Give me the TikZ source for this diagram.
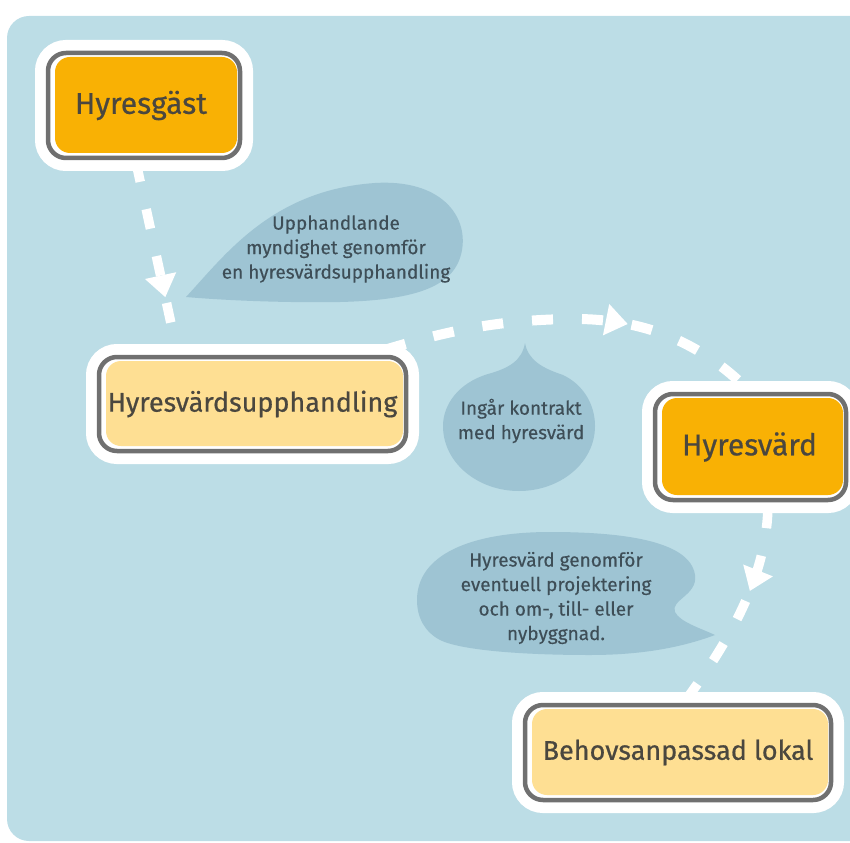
\documentclass[tikz,border=0pt]{standalone}
\usepackage{fontspec}
\setmainfont{Fira Sans}
\newfontfamily\boxfont[FakeBold=0.6]{Fira Sans}
\newfontfamily\bubfont[FakeBold=0.4]{Fira Sans}
\usetikzlibrary{decorations.markings,calc}
\definecolor{bgblue}{HTML}{BCDDE6}
\definecolor{bubble}{HTML}{9EC4D3}
\definecolor{orangefill}{HTML}{F9B104}
\definecolor{yellowfill}{HTML}{FEDF93}
\definecolor{bordergray}{HTML}{707070}
\definecolor{boxtext}{HTML}{4A473F}
\definecolor{bubtext}{HTML}{3E4E57}
\pgfdeclarelayer{bglayer}
\pgfdeclarelayer{midlayer}
\pgfsetlayers{bglayer,midlayer,main}
\tikzset{
  stagebox/.style={rectangle, rounded corners=18pt, draw=bordergray, line width=4.5pt, fill=white,
     preaction={draw=white, line width=26pt},
     inner sep=0pt, text=boxtext, font=\boxfont\fontsize{27}{30}\selectfont},
  orangebox/.style={stagebox, font=\boxfont\fontsize{30}{33}\selectfont,
     path picture={\fill[orangefill, rounded corners=15pt]
     ([xshift=7pt,yshift=-4pt]path picture bounding box.north west) rectangle
     ([xshift=-3pt,yshift=5pt]path picture bounding box.south east);}},
  yellowbox/.style={stagebox, path picture={\fill[yellowfill, rounded corners=15pt]
     ([xshift=7pt,yshift=-4pt]path picture bounding box.north west) rectangle
     ([xshift=-3pt,yshift=5pt]path picture bounding box.south east);}},
  bubbletext/.style={align=center, inner sep=0pt, text=bubtext, font=\bubfont\fontsize{19}{24.5}\selectfont},
  flow/.style={draw=white, line width=9.5pt, dash pattern=on 20pt off 28pt},
  headat/.style={postaction={decorate, decoration={markings,
     mark=at position #1 with {\fill[white] (0pt,0pt) -- (-22pt,16pt) -- (-22pt,-16pt) -- cycle;}}}}
}
\begin{document}
\begin{tikzpicture}[x=1pt,y=-1pt]
\useasboundingbox (0,0) rectangle (850,842);

% boxes
\node[orangebox, minimum width=192pt, minimum height=105pt] (b1) at (144,105.5) {\raisebox{3pt}{Hyresgäst}\hspace*{6pt}};
\node[yellowbox, minimum width=307pt, minimum height=94pt] (b2) at (252.5,404) {Hyresvärdsupphandling};
\node[orangebox, minimum width=191pt, minimum height=106pt] (b3) at (750.5,447) {\raisebox{2pt}{Hyresvärd}\hspace*{2pt}};
\node[yellowbox, minimum width=306pt, minimum height=95pt] (b4) at (678,752.5) {Behovsanpassad lokal};

% bubble texts
\node[bubbletext] (t1) at (336,249) {Upphandlande\\myndighet genomför\\en hyresvärdsupphandling};
\node[bubbletext] (t2) at (521,421) {Ingår kontrakt\\med hyresvärd};
\node[bubbletext] (t3) at (556,598) {Hyresvärd genomför\\eventuell projektering\\och om-, till- eller\\nybyggnad.};

\begin{pgfonlayer}{bglayer}
  \begin{scope}
    \clip (0,0) rectangle (850,842);
    \fill[bgblue, rounded corners=22pt] (7,16) rectangle (900,841);
  \end{scope}
\end{pgfonlayer}

\begin{pgfonlayer}{midlayer}
  % speech bubbles
  \fill[bubble] (186,297) .. controls (225,255) and (272,190) .. (375,183)
     .. controls (440,179) and (468,215) .. (462,250)
     .. controls (456,285) and (420,300) .. (340,302)
     .. controls (280,303) and (220,300) .. (186,297) -- cycle;
  \fill[bubble] (525,343) .. controls (522,360) and (510,368) .. (488,374)
     .. controls (458,383) and (443,405) .. (443,426)
     .. controls (443,463) and (478,491) .. (519,491)
     .. controls (560,491) and (595,463) .. (595,426)
     .. controls (595,403) and (582,384) .. (563,375)
     .. controls (542,368) and (528,360) .. (525,343) -- cycle;
  \fill[bubble] (417,600) .. controls (417,555) and (470,532) .. (550,532)
     .. controls (620,532) and (690,540) .. (695,575)
     .. controls (698,595) and (670,600) .. (675,612)
     .. controls (680,622) and (700,628) .. (715,635)
     .. controls (680,648) and (640,655) .. (590,655)
     .. controls (520,655) and (460,650) .. (440,640)
     .. controls (425,632) and (417,618) .. (417,600) -- cycle;
  % dashed flow arrows
  \draw[flow, headat=138pt] ([xshift=-8pt,yshift=-2pt]b1.south) -- ([xshift=-74.5pt,yshift=-1pt]b2.north);
  \draw[flow, line width=10pt, dash pattern=on 21pt off 29pt, headat=246pt]
     ([xshift=-23pt,yshift=5pt]b2.north east) .. controls (450,330) and (500,320) .. (570,319)
     .. controls (640,318) and (700,340) .. ([xshift=1.5pt,yshift=-2pt]b3.north);
  \draw[flow, dash phase=42pt, headat=91pt] ([xshift=17.5pt]b3.south)
     .. controls (768,560) and (745,620) .. ([xshift=8pt,yshift=3pt]b4.north);
\end{pgfonlayer}
\end{tikzpicture}
\end{document}
